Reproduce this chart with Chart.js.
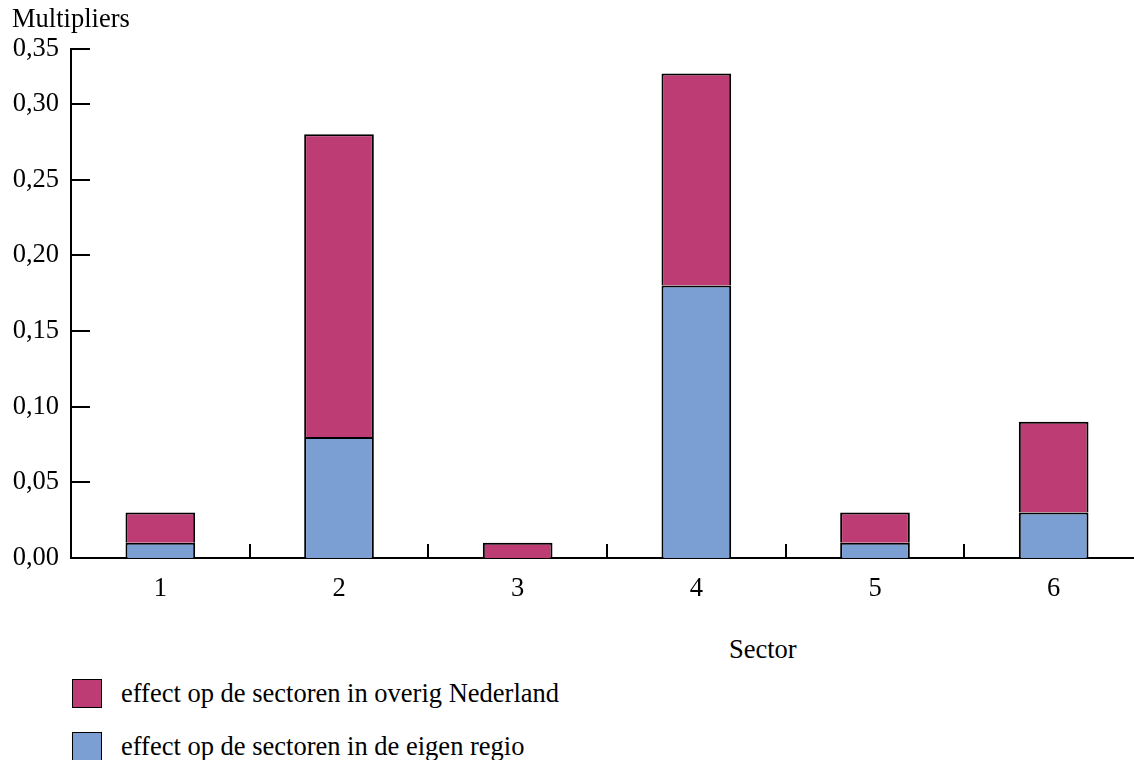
<!DOCTYPE html>
<html>
<head>
<meta charset="utf-8">
<script src="https://cdn.jsdelivr.net/npm/chart.js@4/dist/chart.umd.min.js"></script>
<style>
  html, body { margin: 0; padding: 0; background: #fff; overflow: hidden; width: 1134px; height: 760px; }
  #wrap { position: absolute; left: 0; top: 0; width: 1144px; height: 620px; }
  .txt { position: absolute; font-family: "Liberation Serif", "Times New Roman", serif; font-size: 26.5px; color: #000; white-space: nowrap; line-height: 30px; }
  .box { position: absolute; width: 28px; height: 27px; border: 1.5px solid #000; }
</style>
</head>
<body>
<div id="wrap"><canvas id="c"></canvas></div>
<div class="txt" id="xtitle" style="left:729px; top:634px;"></div>
<div id="legend"></div>
<script>
// ---- data ----
const categories = ['1', '2', '3', '4', '5', '6'];
const eigenRegio = [0.01, 0.08, 0.00, 0.18, 0.01, 0.03];
const overigNederland = [0.02, 0.20, 0.01, 0.14, 0.02, 0.06];
const tickValues = [0.00, 0.05, 0.10, 0.15, 0.20, 0.25, 0.30];
const tickLabels = ['0,00', '0,05', '0,10', '0,15', '0,20', '0,25', '0,30', '0,35'];
const seriesNames = ['effect op de sectoren in overig Nederland', 'effect op de sectoren in de eigen regio'];
const yTitle = 'Multipliers';
const xTitle = 'Sector';

// ---- styling ----
const magenta = '#BD3C73';
const blue = '#7B9ED3';
const fontFam = '"Liberation Serif", "Times New Roman", serif';
const yMax = 0.3364; // axis top as drawn in the reference

const innerTicks = {
  id: 'innerTicks',
  afterDraw(chart) {
    const ctx = chart.ctx;
    const ca = chart.chartArea;
    const xs = chart.scales.x, ys = chart.scales.y;
    ctx.save();
    ctx.strokeStyle = '#000';
    ctx.lineWidth = 2;
    ctx.beginPath();
    ys.ticks.forEach(t => {
      const py = Math.round(ys.getPixelForValue(t.value));
      ctx.moveTo(ca.left, py);
      ctx.lineTo(ca.left + 19, py);
    });
    for (let i = 0; i <= categories.length; i++) {
      const px = Math.round(xs.getPixelForValue(i - 0.5));
      ctx.moveTo(px, ca.bottom);
      ctx.lineTo(px, ca.bottom - 14);
    }
    ctx.stroke();
    ctx.restore();
  }
};

new Chart(document.getElementById('c'), {
  type: 'bar',
  data: {
    labels: categories,
    datasets: [
      { label: seriesNames[1], data: eigenRegio, backgroundColor: blue, borderColor: '#000', borderWidth: 2 },
      { label: seriesNames[0], data: overigNederland, backgroundColor: magenta, borderColor: '#000', borderWidth: 2 }
    ]
  },
  options: {
    responsive: true,
    maintainAspectRatio: false,
    animation: false,
    layout: { padding: { left: 12, right: 1, top: 0, bottom: 0 } },
    datasets: { bar: { categoryPercentage: 1, barPercentage: 0.39 } },
    plugins: {
      legend: { display: false },
      tooltip: { enabled: false },
      title: {
        display: true, text: yTitle, align: 'start', color: '#000',
        font: { family: fontFam, size: 26.5, weight: 'normal' },
        padding: { top: 4, bottom: 13 }
      }
    },
    scales: {
      x: {
        stacked: true,
        grid: { display: false, drawTicks: false },
        border: { display: true, color: '#000', width: 2 },
        ticks: { color: '#000', font: { family: fontFam, size: 26.5 }, padding: 15 },
        afterFit(s) { s.height = 62; }
      },
      y: {
        stacked: true,
        min: 0, max: yMax,
        grid: { display: false, drawTicks: false },
        border: { display: true, color: '#000', width: 2 },
        afterBuildTicks(s) {
          s.ticks = tickValues.map(v => ({ value: v })).concat([{ value: yMax }]);
        },
        ticks: {
          color: '#000', font: { family: fontFam, size: 26.5 }, padding: 12,
          callback(v, i) { return tickLabels[i]; }
        },
        afterFit(s) { s.width = 59; }
      }
    }
  },
  plugins: [innerTicks]
});

document.getElementById('xtitle').textContent = xTitle;
const legendEl = document.getElementById('legend');
const legendColors = [magenta, blue];
seriesNames.forEach((name, i) => {
  const top = 679 + i * 53;
  const b = document.createElement('div');
  b.className = 'box';
  b.style.left = '72px'; b.style.top = top + 'px'; b.style.background = legendColors[i];
  legendEl.appendChild(b);
  const t = document.createElement('div');
  t.className = 'txt';
  t.style.left = '121px'; t.style.top = (top - 1) + 'px';
  t.textContent = name;
  legendEl.appendChild(t);
});
</script>
</body>
</html>
